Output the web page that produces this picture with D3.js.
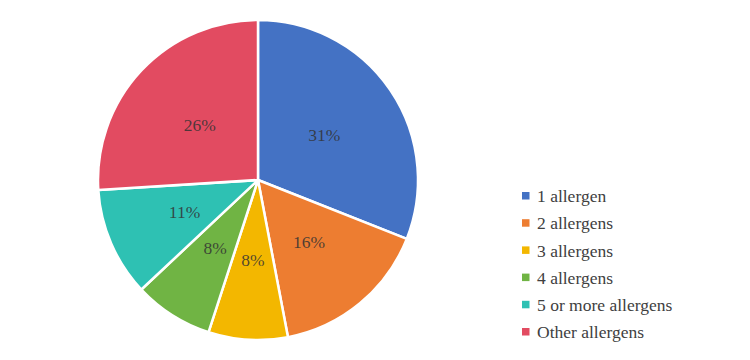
<!DOCTYPE html>
<html>
<head>
<meta charset="utf-8">
<script src="https://cdnjs.cloudflare.com/ajax/libs/d3/7.8.5/d3.min.js"></script>
<style>
  body { margin: 0; background: #fff; }
</style>
</head>
<body>
<script>
// data
var categories = ["1 allergen", "2 allergens", "3 allergens", "4 allergens", "5 or more allergens", "Other allergens"];
var shares = [31, 16, 8, 8, 11, 26];
var colors = ["#4472C4", "#ED7D31", "#F3B700", "#70B444", "#2EC1B3", "#E24B61"];

var width = 750, height = 360;
var cx = 258, cy = 180, radius = 160;

var svg = d3.select("body").append("svg")
    .attr("width", width)
    .attr("height", height)
    .style("display", "block");

var pie = d3.pie().sort(null).value(function(d) { return d; });
var arc = d3.arc().innerRadius(0).outerRadius(radius);

var g = svg.append("g").attr("transform", "translate(" + cx + "," + cy + ")");

var slices = g.selectAll("g.slice")
    .data(pie(shares))
    .enter().append("g").attr("class", "slice");

slices.append("path")
    .attr("d", arc)
    .attr("fill", function(d, i) { return colors[i]; })
    .attr("stroke", "#fff")
    .attr("stroke-width", 2.5)
    .attr("stroke-linejoin", "round");

slices.append("text")
    .attr("transform", function(d) { return "translate(" + arc.centroid(d) + ")"; })
    .attr("text-anchor", "middle")
    .attr("dy", "0.35em")
    .attr("fill", "#333")
    .attr("fill-opacity", 0.85)
    .style("font-family", "'Liberation Serif'")
    .style("font-size", "17.5px")
    .text(function(d) { return d.data + "%"; });

// legend
var legend = svg.append("g").attr("transform", "translate(522,196)");
var rowY = d3.scalePoint().domain(categories).range([0, 136]);

var item = legend.selectAll("g.item")
    .data(categories)
    .enter().append("g").attr("class", "item")
    .attr("transform", function(d) { return "translate(0," + rowY(d) + ")"; });

item.append("rect")
    .attr("x", 0).attr("y", -4)
    .attr("width", 7.5).attr("height", 7.5)
    .attr("fill", function(d, i) { return colors[i]; });

item.append("text")
    .attr("x", 15)
    .attr("dy", "0.35em")
    .attr("fill", "#404040")
    .style("font-family", "'Liberation Serif'")
    .style("font-size", "17.5px")
    .text(function(d) { return d; });
</script>
</body>
</html>
